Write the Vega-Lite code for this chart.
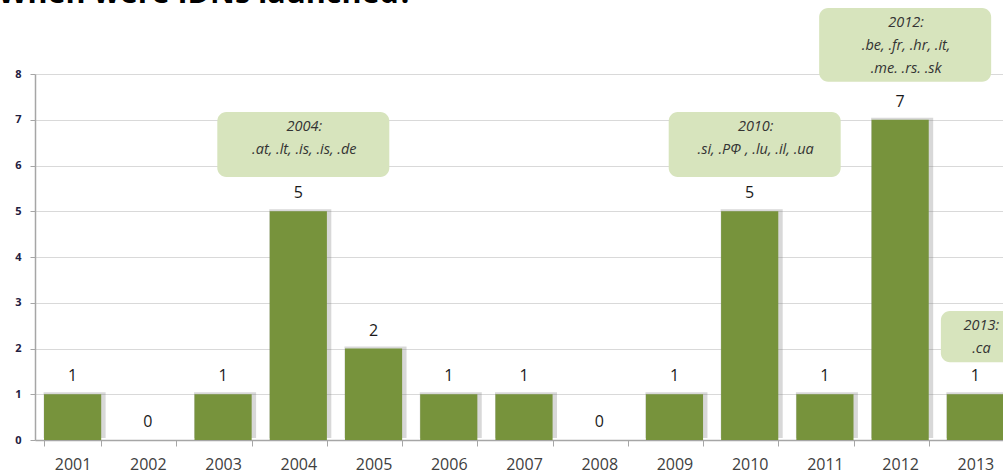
{
  "$schema": "https://vega.github.io/schema/vega-lite/v6.json",
  "width": 968,
  "height": 366,
  "autosize": {"type": "none"},
  "padding": {"left": 35, "top": 74, "right": 0, "bottom": 36},
  "background": "white",
  "title": {"text": "When were IDNs launched?", "anchor": "start", "frame": "group", "fontSize": 30.5, "fontWeight": "bold", "font": "Open Sans", "color": "#000000", "dx": -37, "offset": -25, "baseline": "alphabetic"},
  "config": {"view": {"stroke": null}, "font": "Open Sans"},
  "datasets": {
    "bars": [
      {"year": "2001", "count": 1},
      {"year": "2002", "count": 0},
      {"year": "2003", "count": 1},
      {"year": "2004", "count": 5},
      {"year": "2005", "count": 2},
      {"year": "2006", "count": 1},
      {"year": "2007", "count": 1},
      {"year": "2008", "count": 0},
      {"year": "2009", "count": 1},
      {"year": "2010", "count": 5},
      {"year": "2011", "count": 1},
      {"year": "2012", "count": 7},
      {"year": "2013", "count": 1}
    ],
    "notes": [
      {"year": "2004", "top": 7.17, "bottom": 5.75, "label": "2004:\n.at, .lt, .is, .is, .de", "wide": true},
      {"year": "2010", "top": 7.17, "bottom": 5.75, "label": "2010:\n.si, .РФ , .lu, .il, .ua", "wide": true},
      {"year": "2012", "top": 9.44, "bottom": 7.83, "label": "2012:\n.be, .fr, .hr, .it,\n.me. .rs. .sk", "wide": true},
      {"year": "2013", "top": 2.82, "bottom": 1.7, "label": "2013:\n.ca", "wide": false}
    ]
  },
  "encoding": {
    "x": {
      "field": "year", "type": "ordinal",
      "scale": {"domain": ["2001","2002","2003","2004","2005","2006","2007","2008","2009","2010","2011","2012","2013"], "range": [0, 978], "paddingInner": 0.24, "paddingOuter": 0.12},
      "axis": {"title": null, "labelAngle": 0, "domainColor": "#A6A6A6", "domainWidth": 1.5, "tickColor": "#A6A6A6", "tickSize": 6, "tickBand": "extent", "labelFontSize": 16, "labelColor": "#404040", "labelPadding": 10, "grid": false}
    }
  },
  "layer": [
    {
      "data": {"name": "bars"},
      "mark": {"type": "bar", "color": "#7f7f7f", "opacity": 0.3, "width": 62, "xOffset": 2, "yOffset": -2},
      "encoding": {"y": {"field": "count", "type": "quantitative", "scale": {"domain": [0, 8]}, "axis": {"title": null, "values": [0,1,2,3,4,5,6,7,8], "grid": true, "gridColor": "#D9D9D9", "domainColor": "#A6A6A6", "domainWidth": 1.5, "tickColor": "#A6A6A6", "tickSize": 5, "labelFontWeight": "bold", "labelFontSize": 11, "labelColor": "#1F2041", "labelPadding": 9}}}
    },
    {
      "data": {"name": "bars"},
      "mark": {"type": "bar", "color": "#77933C"},
      "encoding": {"y": {"field": "count", "type": "quantitative"}}
    },
    {
      "data": {"name": "bars"},
      "mark": {"type": "text", "dy": -18, "fontSize": 16, "color": "#1a1a1a", "baseline": "middle"},
      "encoding": {"y": {"field": "count", "type": "quantitative"}, "text": {"field": "count", "type": "quantitative"}}
    },
    {
      "data": {"name": "notes"},
      "transform": [{"filter": "datum.wide"}],
      "mark": {"type": "bar", "color": "#D7E4BD", "width": 172, "xOffset": 5, "cornerRadius": 9},
      "encoding": {"y": {"field": "top", "type": "quantitative"}, "y2": {"field": "bottom"}}
    },
    {
      "data": {"name": "notes"},
      "transform": [{"filter": "!datum.wide"}],
      "mark": {"type": "bar", "color": "#D7E4BD", "width": 85, "xOffset": 8, "cornerRadius": 9},
      "encoding": {"y": {"field": "top", "type": "quantitative"}, "y2": {"field": "bottom"}}
    },
    {
      "data": {"name": "notes"},
      "mark": {"type": "text", "lineBreak": "\n", "baseline": "top", "dy": 8, "dx": 6, "fontStyle": "italic", "fontSize": 14.5, "lineHeight": 23, "color": "#333333"},
      "encoding": {"y": {"field": "top", "type": "quantitative"}, "text": {"field": "label", "type": "nominal"}}
    }
  ]
}
